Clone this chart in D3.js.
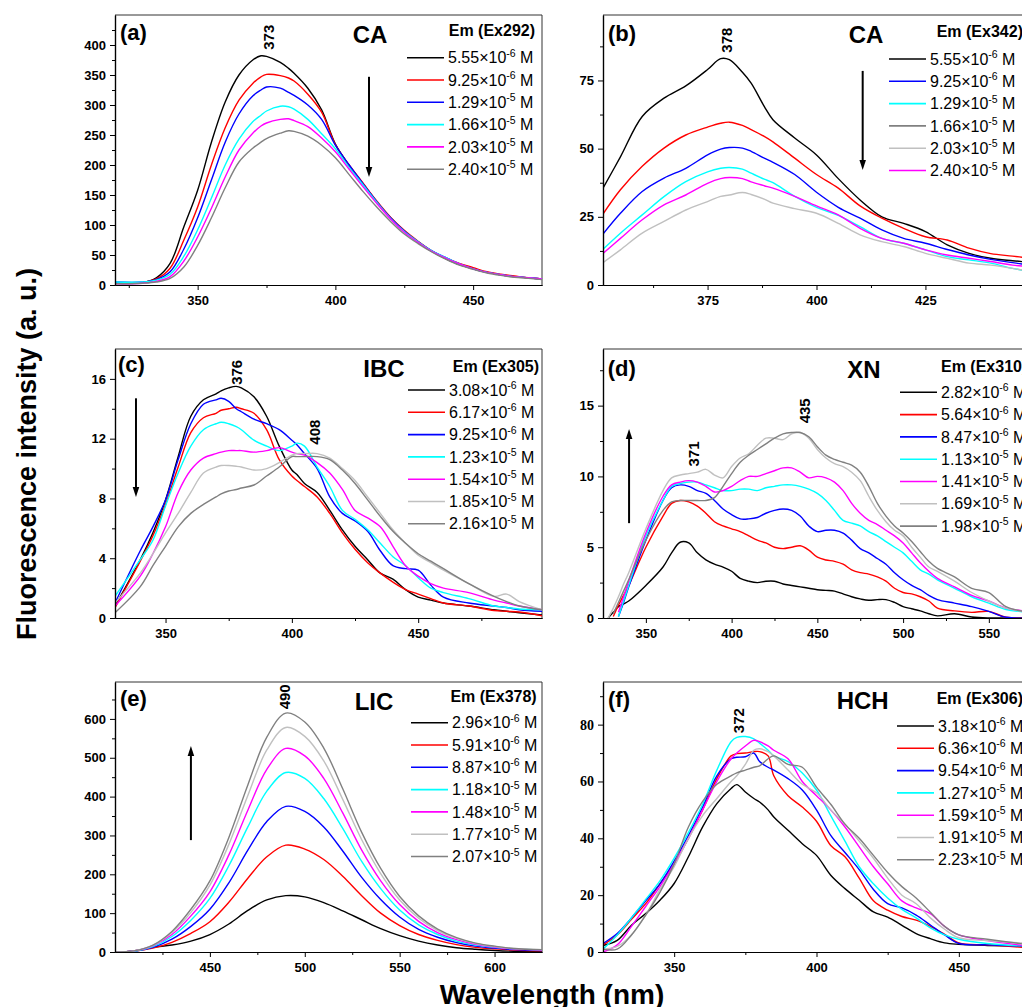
<!DOCTYPE html>
<html>
<head>
<meta charset="utf-8">
<script src="https://cdn.jsdelivr.net/npm/d3@7"></script>
<style>
  body { margin: 0; background: #fff; }
  svg { font-family: "Liberation Sans", Arial, sans-serif; }
</style>
</head>
<body>
<svg id="chart" width="1022" height="1007"></svg>
<script>
// colours used by the plotting program
var BLK = "#000000", RED = "#ff0000", BLU = "#0000ff", CYN = "#00ffff",
    MAG = "#ff00ff", LGR = "#c0c0c0", DGR = "#808080";

// (a) CA, Ex 292
var waveA = [320,330,335,340,345,350,355,360,365,370,373,375,380,383,385,390,395,400,405,410,415,420,425,430,435,440,445,450,455,460,465,470,475];
var a1 = [3,4,12,36,97,158,238,305,350,375,382,381,371,361,353,328,292,235,199,169,139,112,90,72,56,44,34,27,21,17,14,12,10];
var a2 = [3,4,10,28,75,130,200,262,308,336,347,351,349,345,340,318,288,234,200,170,140,113,91,73,57,45,36,29,22,18,15,12,10];
var a3 = [5,5,9,22,60,112,175,238,285,315,325,330,328,321,316,300,276,233,200,169,139,112,90,72,57,46,35,27,21,17,14,12,10];
var a4 = [5,5,8,18,48,92,145,200,243,272,283,290,298,297,293,276,252,227,196,167,138,111,89,72,57,46,35,27,21,17,14,12,10];
var a5 = [2,3,6,14,40,80,128,180,225,253,265,270,276,277,274,264,245,222,193,164,136,110,88,71,56,45,35,27,21,17,14,12,10];
var a6 = [2,3,5,11,30,66,112,162,205,228,238,244,253,257,256,248,233,212,184,156,130,106,85,69,55,43,33,26,20,16,13,11,9];
var concA = ["5.55e-6","9.25e-6","1.29e-5","1.66e-5","2.03e-5","2.40e-5"];

// (b) CA, Ex 342
var waveB = [351,355,360,365,370,375,378,380,383,385,388,390,395,400,405,410,415,420,425,430,435,440,445,449];
var b1 = [35.5,47,61.8,68.5,73,79,83,82.6,78,74,65.5,60.6,53.9,47.7,39,31.2,25,22.6,19.6,14.7,11.6,9.8,8.9,8.3];
var b2 = [26,34.9,43.5,50.2,55,57.9,59.3,59.7,58.5,57,54.5,52.5,46.5,40.5,35.5,29,24.5,20.8,17.7,16.5,13.5,11.5,10.6,9.8];
var b3 = [18.7,26.3,34.3,39.2,42.8,47.7,49.8,50.4,50.2,49,46.5,45,40.5,34,28.5,24.5,20.2,17.1,15.3,13,11,9.4,8.2,7.3];
var b4 = [13.1,19,25.7,32.4,37.9,41.5,42.8,43.1,42.5,41,38.8,37.5,32.5,28.5,25.5,21.4,17.1,15.3,12.9,10.4,9.2,8,6.1,4.9];
var b5 = [11.6,17.1,23.9,29.4,33,37.3,39,39.4,39,37.8,36.4,35.5,32.5,29,25.7,20.8,17.1,15.3,12.9,11,9.8,8.6,7.3,6.7];
var b6 = [8.2,12.9,19,23.3,27.5,30.6,32.5,33,33.9,33.2,31.5,30,28,26.3,22.6,18.4,15.9,14.1,11.6,9.8,8,7.3,6.1,4.9];
var concB = ["5.55e-6","9.25e-6","1.29e-5","1.66e-5","2.03e-5","2.40e-5"];

// (c) IBC, Ex 305
var waveC = [330,340,345,350,355,360,365,370,372,375,378,380,385,390,395,400,402,405,410,415,420,425,430,435,440,445,450,455,460,470,480,485,490,499];
var c1 = [0.8,3.9,5.7,7.9,10.8,13.5,14.6,15,15.2,15.4,15.5,15.4,14.8,13.5,11.5,9.9,9.6,9,8.4,7.2,5.9,4.8,3.9,3,2.6,1.9,1.4,1.2,1.0,0.8,0.55,0.45,0.35,0.2];
var c2 = [0.7,3.8,5.5,7.6,10.1,12.4,13.4,13.7,13.9,14.0,14.1,14.0,13.7,12.6,10.6,9.5,9.2,8.8,8.1,7,5.7,4.6,3.7,3,2.4,1.9,1.6,1.3,1.0,0.8,0.5,0.45,0.4,0.15];
var c3 = [1.0,4.5,6.1,7.9,10.6,13,14.3,14.6,14.7,14.5,14.0,13.8,13.3,13.0,12.6,11.9,11.6,11,10,8.1,7,6.5,5.8,4.5,3.5,3.3,3.2,2.2,1.4,1.0,0.8,0.7,0.55,0.45];
var c4 = [1.45,3.9,5.2,7.5,9.7,11.5,12.6,13,13.1,13.0,12.8,12.6,11.9,11.5,11.2,11.5,11.7,11.5,10.1,8.8,7.2,6.6,5.9,5,4.1,3.5,2.7,2,1.7,1.3,0.8,0.7,0.6,0.55];
var c5 = [0.8,2.8,4.3,6.1,8.4,9.9,10.7,11,11.1,11.2,11.2,11.2,11.1,11.2,11.4,11.1,11.0,10.9,10.4,9.7,8.6,7.2,6.7,6.1,4.8,3.5,2.8,2.3,2,1.7,1.2,1.0,0.8,0.55];
var c6 = [1,3,4.3,5.7,7,8.4,9.7,10.1,10.2,10.2,10.15,10.1,9.9,10,10.4,10.9,11.0,11,11,10.7,10,9.2,8.1,7,5.9,5,4.2,3.7,3.2,2.3,1.45,1.6,1.1,0.55];
var c7 = [0.35,2.1,3.5,4.8,6.1,7,7.6,8.1,8.3,8.5,8.6,8.7,8.9,9.5,10.1,10.8,10.8,10.8,10.8,10.6,9.9,9,7.9,6.8,5.8,5,4.3,3.8,3.3,2.3,1.45,1.1,0.8,0.55];
var concC = ["3.08e-6","6.17e-6","9.25e-6","1.23e-5","1.54e-5","1.85e-5","2.16e-5"];

// (d) XN, Ex 310
var waveD = [328,331,334,337,340,350,360,365,370,375,380,385,390,395,400,405,410,415,420,425,430,435,440,445,450,455,460,465,470,475,480,485,490,495,500,505,510,515,520,530,540,550,560,574];
var d1 = [0,0.4,0.8,1.0,1.2,2.3,3.6,4.6,5.35,5.3,4.6,4.1,3.8,3.6,3.3,2.8,2.6,2.5,2.6,2.6,2.4,2.3,2.2,2.1,2.0,1.95,1.9,1.7,1.5,1.35,1.25,1.3,1.3,1.1,0.8,0.65,0.5,0.3,0.15,0.3,0.07,0,0,0];
var d2 = [null,0.1,0.9,1.6,2.3,5,7.2,8.1,8.3,8.2,7.9,7.4,6.8,6.5,6.3,6.1,5.8,5.5,5.3,5.0,4.9,5.0,5.1,4.8,4.3,4.1,4.0,3.8,3.4,3.2,3.1,2.9,2.6,2.1,1.8,1.7,1.5,1.2,0.7,0.5,0.4,0.47,0.05,0];
var d3v = [null,null,0.1,1.1,2.2,5.5,8.3,9.2,9.4,9.3,9.0,8.8,8.3,7.7,7.3,7.0,7.0,7.1,7.4,7.6,7.7,7.6,7.2,6.5,6.1,6.2,6.2,6.0,5.5,4.9,4.6,4.2,3.8,3.2,2.7,2.3,2.0,1.6,1.3,1.05,0.8,0.47,0.05,0];
var d4 = [null,null,0.1,1.2,2.3,5.8,8.3,9.3,9.5,9.6,9.6,9.4,9.2,9.0,9.0,9.1,9.1,9.0,9.2,9.3,9.4,9.4,9.3,9.1,8.8,8.3,7.6,6.9,6.7,6.5,6.1,5.8,5.4,5.0,4.6,4.0,3.4,3.1,2.7,2.1,1.5,1.05,0.6,0.4];
var d5 = [null,null,0.4,1.5,2.6,6.0,8.6,9.4,9.6,9.7,9.6,9.3,8.9,9.0,9.3,9.7,10.0,10.0,10.2,10.4,10.6,10.6,10.3,9.9,10.0,9.9,9.6,9.0,8.1,7.4,6.9,6.6,6.2,5.8,5.3,4.6,3.9,3.3,2.8,2.2,1.6,1.2,0.7,0.47];
var d6 = [0,0.7,1.5,2.4,3.2,6.3,9.0,9.9,10.1,10.2,10.3,10.5,10.1,9.9,10.7,11.3,11.6,12.2,12.7,12.7,12.6,13.0,13.1,12.7,11.9,11.3,10.9,10.7,10.3,9.7,8.6,7.6,6.8,6.2,5.8,5.0,4.3,3.6,3.3,2.6,1.8,1.2,0.7,0.4];
var d7 = [null,0.3,1.1,1.9,2.7,5.5,7.6,8.2,8.3,8.3,8.3,8.3,8.5,9.3,10.2,11.0,11.5,11.9,12.3,12.7,13.0,13.1,13.1,12.8,12.1,11.5,11.2,11.0,10.8,10.3,9.3,8.1,7.2,6.5,6.0,5.4,4.7,4.0,3.5,2.9,2.1,1.8,0.8,0.4];
var concD = ["2.82e-6","5.64e-6","8.47e-6","1.13e-5","1.41e-5","1.69e-5","1.98e-5"];

// (e) LIC, Ex 378
var waveE = [400,410,420,430,440,450,460,470,480,490,500,510,520,530,540,550,560,570,580,590,600,610,625];
var e1 = [0,3,12,18,28,45,72,107,134,145,142,127,106,83,60,42,28,18,11,7,4,2,1];
var e2 = [0,2,10,25,48,78,128,190,245,275,265,238,195,145,100,68,45,30,19,12,8,5,3];
var e3 = [0,2,12,33,66,110,178,262,336,375,362,322,260,192,135,90,58,38,24,15,10,6,4];
var e4 = [0,2,14,40,82,138,222,322,414,462,447,395,318,233,163,108,70,45,28,18,12,8,5];
var e5 = [0,3,16,45,93,155,250,365,470,524,505,447,358,262,183,122,79,50,32,20,13,8,5];
var e6 = [0,3,17,50,102,172,277,403,520,578,555,492,393,289,202,134,87,55,35,22,14,9,6];
var e7 = [0,3,18,53,110,183,295,430,553,615,592,525,420,308,215,143,93,59,37,23,15,9,6];
var concE = ["2.96e-6","5.91e-6","8.87e-6","1.18e-5","1.48e-5","1.77e-5","2.07e-5"];

// (f) HCH, Ex 306
var waveF = [325,330,335,340,345,350,355,360,365,370,372,375,378,380,383,385,390,395,400,405,410,415,420,425,430,435,440,445,450,460,475];
var f1 = [2.3,4.1,9.4,13.5,18.2,24.1,33.5,44,52.2,57.5,58.9,56.3,54,52.8,50,47.5,42.8,38.1,34,27,22.3,18.2,14.1,12.3,9.4,6.5,4.7,3.2,2.7,2.3,2];
var f2 = [2.5,6,11.5,17,24,31,40,50,61,69,69.8,70,70.5,70.5,69,62,55,51,46,37.5,33.5,26,18,14.7,12.5,11.2,9,6.2,3.2,2.5,1.5];
var f3 = [3,6.5,12,18,24,32,41,51,62,68,68.5,68.7,70,67,65,64,61,57,50,41,35,29,22,17,15.5,13,9.5,6,3,2.5,2];
var f4 = [1,6,12,18.5,25,33,42,52,64,74,75.5,75.8,75,73.5,71,69,67,63,57,48,39,30,24,19,15,12,8.5,6,4.5,3,2];
var f5 = [0,2.5,9,16,23,31,40,50,60,68,70,72.5,74.5,74,72.5,71,68,60,55,50,44,37,30,24,18,15.5,13.5,9,6,4,2];
var f6 = [1,2,6,13,22,30,40,48,54,60,62,66,71,71.5,70.5,69,64,59,56,50,45,39,33,26,20,17,12,8,5,4,3];
var f7 = [1,1,6,13,21,31,44,53,59,62,63,64,65,65.5,68,69,66,65,58,52,45,40,34,28,23,19,14,9,6,4.5,2.5];
var concF = ["3.18e-6","6.36e-6","9.54e-6","1.27e-5","1.59e-5","1.91e-5","2.23e-5"];

var seven = [BLK, RED, BLU, CYN, MAG, LGR, DGR];

var sans = "'Liberation Sans', Arial, sans-serif";
var serif = "'Liberation Serif', 'Times New Roman', serif";

var panels = [
  {id:"a", box:[115,15,542,285], xDom:[320,475], yDom:[0,450],
   xMajor:[350,400,450], xMinor:[325,375,425], yMajor:d3.range(0,401,50), yMinor:d3.range(25,450,50),
   wave:waveA, series:[a1,a2,a3,a4,a5,a6], colors:[BLK,RED,BLU,CYN,MAG,DGR],
   legend:concA, legColors:[BLK,RED,BLU,CYN,MAG,DGR],
   letter:"(a)", letX:120, letY:40, name:"CA", nameX:370, nameY:42.7,
   em:"Em (Ex292)", emX:535, emY:36.4, emAnchor:"end", legX:407, legY:57.7,
   arrows:[[412.2,347,180]], peaks:[["373",375.9,392]]},
  {id:"b", box:[603,15,1030,285], xDom:[351,449], yDom:[0,99],
   xMajor:[375,400,425], xMinor:[362.5,387.5,412.5,437.5], yMajor:[0,25,50,75], yMinor:[12.5,37.5,62.5,87.5],
   wave:waveB, series:[b1,b2,b3,b4,b5,b6], colors:[BLK,RED,BLU,CYN,MAG,LGR],
   legend:concB, legColors:[BLK,BLU,CYN,DGR,LGR,MAG],
   letter:"(b)", letX:608, letY:40.5, name:"CA", nameX:866, nameY:43.3,
   em:"Em (Ex342)", emX:936.7, emY:37.4, emAnchor:"start", legX:889, legY:59,
   arrows:[[410.6,78.5,42.2]], peaks:[["378",379.3,85.2]]},
  {id:"c", box:[115,349,542,618], xDom:[330,499], yDom:[0,18],
   xMajor:[350,400,450], xMinor:[375,425,475], yMajor:[0,4,8,12,16], yMinor:[2,6,10,14],
   wave:waveC, series:[c1,c2,c3,c4,c5,c6,c7], colors:seven,
   legend:concC, legColors:seven,
   letter:"(c)", letX:118, letY:372, name:"IBC", nameX:384, nameY:376.7,
   em:"Em (Ex305)", emX:539, emY:371.7, emAnchor:"end", legX:408, legY:390,
   arrows:[[338.3,14.7,8.1]], peaks:[["376",378.2,15.6],["408",409.1,11.6]]},
  {id:"d", box:[603,349,1030,618], xDom:[325,574], yDom:[0,19],
   xMajor:[350,400,450,500,550], xMinor:[375,425,475,525], yMajor:[0,5,10,15], yMinor:[2.5,7.5,12.5,17.5],
   wave:waveD, series:[d1,d2,d3v,d4,d5,d6,d7], colors:seven,
   legend:concD, legColors:seven,
   letter:"(d)", letX:607.7, letY:376, name:"XN", nameX:864, nameY:377.7,
   em:"Em (Ex310)", emX:941, emY:372.4, emAnchor:"start", legX:900, legY:392.3,
   arrows:[[340.2,6.7,13.35]], peaks:[["371",377.7,10.7],["435",442.8,13.75]]},
  {id:"e", box:[115,682,542,952], xDom:[400,625], yDom:[0,695],
   xMajor:[450,500,550,600], xMinor:[425,475,525,575], yMajor:d3.range(0,601,100), yMinor:d3.range(50,695,100),
   wave:waveE, series:[e1,e2,e3,e4,e5,e6,e7], colors:seven,
   legend:concE, legColors:seven,
   letter:"(e)", letX:120, letY:706, name:"LIC", nameX:374, nameY:710,
   em:"Em (Ex378)", emX:536.7, emY:701.7, emAnchor:"end", legX:411, legY:722.7,
   arrows:[[440,288,530]], peaks:[["490",489.6,624.7]]},
  {id:"f", box:[603,682,1030,952], xDom:[325,475], yDom:[0,95],
   xMajor:[350,400,450], xMinor:[375,425], yMajor:[0,20,40,60,80], yMinor:[10,30,50,70,90],
   wave:waveF, series:[f1,f2,f3,f4,f5,f6,f7], colors:seven,
   legend:concF, legColors:seven, yFont:serif, yFontSize:14,
   letter:"(f)", letX:608, letY:707, name:"HCH", nameX:862.7, nameY:709,
   em:"Em (Ex306)", emX:936.7, emY:703.7, emAnchor:"start", legX:897, legY:726,
   arrows:[], peaks:[["372",372.5,77]]}
];

var svg = d3.select("#chart");
svg.append("rect").attr("width",1022).attr("height",1007).attr("fill","#fff");
var defs = svg.append("defs");
defs.append("marker")
    .attr("id","head")
    .attr("viewBox","0 -4 10 8")
    .attr("refX",2).attr("refY",0)
    .attr("markerUnits","userSpaceOnUse")
    .attr("markerWidth",10).attr("markerHeight",8)
    .attr("orient","auto")
  .append("path")
    .attr("d","M0,-3.3L10,0L0,3.3Z")
    .attr("fill","#000");

function styleAxis(g, font, size) {
  g.select(".domain").attr("stroke","#000").attr("stroke-width",1.2);
  g.selectAll(".tick line").attr("stroke","#000").attr("stroke-width",1);
  g.selectAll(".tick text")
    .attr("fill","#000")
    .style("font-family", font)
    .style("font-size", size + "px")
    .style("font-weight", "bold");
}

panels.forEach(function(p) {
  var l = p.box[0], t = p.box[1], r = p.box[2], b = p.box[3];
  var x = d3.scaleLinear().domain(p.xDom).range([l, r]);
  var y = d3.scaleLinear().domain(p.yDom).range([b, t]);
  var g = svg.append("g").attr("class","panel-"+p.id);

  defs.append("clipPath").attr("id","clip"+p.id)
    .append("rect").attr("x",l).attr("y",t).attr("width",r-l).attr("height",b-t);

  // top and right of the frame
  g.append("path")
    .attr("d","M"+l+","+t+"H"+r+"V"+b)
    .attr("fill","none").attr("stroke","#333").attr("stroke-width",1);

  var line = d3.line()
    .defined(function(d) { return d[1] !== null; })
    .x(function(d) { return x(d[0]); })
    .y(function(d) { return y(d[1]); })
    .curve(d3.curveCatmullRom.alpha(0.5));

  var cg = g.append("g").attr("clip-path","url(#clip"+p.id+")");
  p.series.forEach(function(vals, i) {
    cg.append("path")
      .datum(p.wave.map(function(w, j) { return [w, vals[j]]; }))
      .attr("d", line)
      .attr("fill","none")
      .attr("stroke", p.colors[i])
      .attr("stroke-width",1.4);
  });

  // axes, minor ticks first
  var xm = g.append("g").attr("transform","translate(0,"+b+")")
    .call(d3.axisBottom(x).tickValues(p.xMinor).tickSize(3).tickSizeOuter(0).tickFormat(""));
  styleAxis(xm, sans, 13);
  var xa = g.append("g").attr("transform","translate(0,"+b+")")
    .call(d3.axisBottom(x).tickValues(p.xMajor).tickSize(5).tickSizeOuter(0).tickPadding(6).tickFormat(d3.format("d")));
  styleAxis(xa, sans, 13);

  var ym = g.append("g").attr("transform","translate("+l+",0)")
    .call(d3.axisLeft(y).tickValues(p.yMinor).tickSize(3).tickSizeOuter(0).tickFormat(""));
  styleAxis(ym, sans, 13);
  var ya = g.append("g").attr("transform","translate("+l+",0)")
    .call(d3.axisLeft(y).tickValues(p.yMajor).tickSize(5).tickSizeOuter(0).tickPadding(4).tickFormat(d3.format("d")));
  styleAxis(ya, p.yFont || sans, p.yFontSize || 13);

  // panel letter and compound name
  g.append("text").attr("x",p.letX).attr("y",p.letY)
    .attr("font-size",22).attr("font-weight","bold").text(p.letter);
  g.append("text").attr("x",p.nameX).attr("y",p.nameY).attr("text-anchor","middle")
    .attr("font-size",24).attr("font-weight","bold").text(p.name);

  // legend
  g.append("text").attr("x",p.emX).attr("y",p.emY).attr("text-anchor",p.emAnchor)
    .attr("font-size",16).attr("font-weight","bold").text(p.em);
  p.legend.forEach(function(lab, i) {
    var yy = p.legY + i * 22.3;
    g.append("line")
      .attr("x1",p.legX).attr("x2",p.legX+37).attr("y1",yy).attr("y2",yy)
      .attr("stroke",p.legColors[i]).attr("stroke-width",1.6);
    var parts = lab.split("e");
    var tx = g.append("text").attr("x",p.legX+41).attr("y",yy+5.6).attr("font-size",16);
    tx.append("tspan").text(parts[0]+"\u00d710");
    tx.append("tspan").attr("dy",-6.5).attr("font-size",10.5).text(parts[1]);
    tx.append("tspan").attr("dy",6.5).text(" M");
  });

  // concentration arrows
  p.arrows.forEach(function(a) {
    var ax = x(a[0]), y1 = y(a[1]), y2 = y(a[2]);
    var dir = y2 > y1 ? 1 : -1;
    g.append("line")
      .attr("x1",ax).attr("x2",ax).attr("y1",y1).attr("y2",y2 - dir*8)
      .attr("stroke","#000").attr("stroke-width",2)
      .attr("marker-end","url(#head)");
  });

  // peak positions, written sideways
  p.peaks.forEach(function(pk) {
    var px = x(pk[1]), py = y(pk[2]);
    g.append("text")
      .attr("transform","translate("+px+","+py+") rotate(-90)")
      .attr("dy","0.36em")
      .attr("font-size",15).attr("font-weight","bold")
      .text(pk[0]);
  });
});

// shared axis titles
svg.append("text")
  .attr("transform","translate(36,454) rotate(-90)")
  .attr("text-anchor","middle")
  .attr("font-size",27).attr("font-weight","bold")
  .text("Fluorescence intensity (a. u.)");
svg.append("text")
  .attr("x",552).attr("y",1004)
  .attr("text-anchor","middle")
  .attr("font-size",28).attr("font-weight","bold")
  .text("Wavelength (nm)");
</script>
</body>
</html>
